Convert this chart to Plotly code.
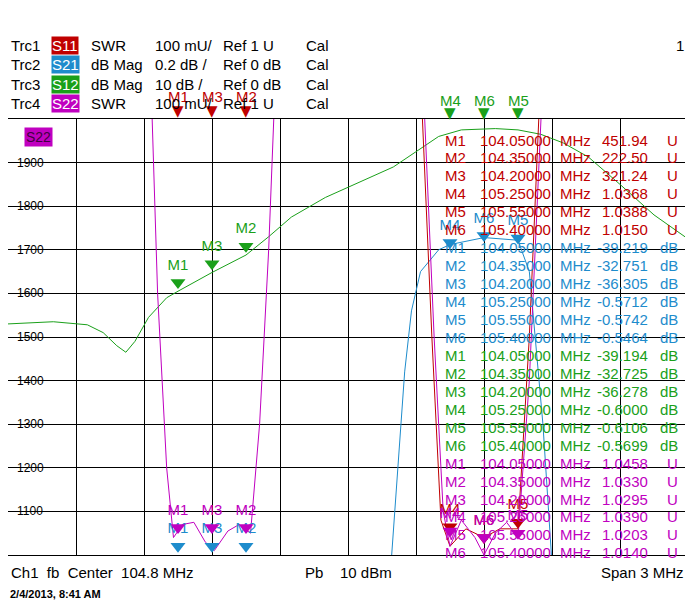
import plotly.graph_objects as go

# frequency axis (MHz) and display values (S22 SWR scale, drawn in "mU" units)
f_start, f_stop = 103.3, 106.3
y_ticks = [1100, 1200, 1300, 1400, 1500, 1600, 1700, 1800, 1900]

s12_f = [103.3, 103.5, 103.65, 103.72, 103.78, 103.82, 103.86, 103.92, 104.0, 104.05, 104.2, 104.35,
         104.45, 104.55, 104.7, 104.85, 105.0, 105.1, 105.2, 105.3, 105.45, 105.55, 105.65, 105.75,
         105.86, 106.0, 106.15, 106.3]
s12_v = [1530, 1535, 1528, 1510, 1480, 1465, 1490, 1545, 1590, 1605, 1648, 1688,
         1730, 1775, 1820, 1855, 1890, 1925, 1960, 1975, 1978, 1975, 1965, 1945,
         1913, 1850, 1780, 1725]

s21_f = [104.99, 105.02, 105.05, 105.08, 105.12, 105.2, 105.25, 105.4, 105.55, 105.6, 105.66, 105.7]
s21_v = [980, 1200, 1420, 1560, 1650, 1700, 1712, 1728, 1722, 1650, 1300, 980]

s11_f = [105.12, 105.17, 105.21, 105.25, 105.32, 105.4, 105.47, 105.55, 105.6, 105.65]
s11_v = [2100, 1500, 1080, 1020, 1060, 1040, 1060, 1060, 1500, 2100]

s22_f = [103.93, 103.96, 104.0, 104.03, 104.07, 104.12, 104.17, 104.21, 104.27, 104.32,
         104.37, 104.41, 104.45, 104.48, 105.13, 105.18, 105.22, 105.25, 105.3, 105.36,
         105.4, 105.45, 105.5, 105.55, 105.6, 105.66]
s22_v = [2100, 1600, 1200, 1040, 1070, 1075, 1030, 1010, 1055, 1070,
         1050, 1300, 1700, 2100, 2100, 1500, 1100, 1020, 1080, 1040,
         1000, 1050, 1075, 1040, 1400, 2100]

mk_left_f = [104.05, 104.2, 104.35]
mk_left_n = ['M1', 'M3', 'M2']
mk_right_f = [105.25, 105.4, 105.55]
mk_right_n = ['M4', 'M6', 'M5']

red, blue, green, mag = '#c00000', '#1e8ccc', '#1aa01a', '#c000c0'

table_rows = [
    ('M1', '104.05000', '451.94', 'U', red), ('M2', '104.35000', '222.50', 'U', red),
    ('M3', '104.20000', '321.24', 'U', red), ('M4', '105.25000', '1.0368', 'U', red),
    ('M5', '105.55000', '1.0388', 'U', red), ('M6', '105.40000', '1.0150', 'U', red),
    ('M1', '104.05000', '-39.219', 'dB', blue), ('M2', '104.35000', '-32.751', 'dB', blue),
    ('M3', '104.20000', '-36.305', 'dB', blue), ('M4', '105.25000', '-0.5712', 'dB', blue),
    ('M5', '105.55000', '-0.5742', 'dB', blue), ('M6', '105.40000', '-0.5464', 'dB', blue),
    ('M1', '104.05000', '-39.194', 'dB', green), ('M2', '104.35000', '-32.725', 'dB', green),
    ('M3', '104.20000', '-36.278', 'dB', green), ('M4', '105.25000', '-0.6000', 'dB', green),
    ('M5', '105.55000', '-0.6106', 'dB', green), ('M6', '105.40000', '-0.5699', 'dB', green),
    ('M1', '104.05000', '1.0458', 'U', mag), ('M2', '104.35000', '1.0330', 'U', mag),
    ('M3', '104.20000', '1.0295', 'U', mag), ('M4', '105.25000', '1.0390', 'U', mag),
    ('M5', '105.55000', '1.0203', 'U', mag), ('M6', '105.40000', '1.0140', 'U', mag),
]

# page body adds an 8 px offset; figure is sized so the plot lands where the reference has it
OFF = 8
W, H = 685, 603
L, R, T, B = 8, 688, 119, 555   # plot box in window pixels
FONT = 'Liberation Sans'


def px(x):
    return (x - L) / (R - L)


def py(y):
    return (B - y) / (B - T)


def lin(f, fs, vs):
    for i in range(len(fs) - 1):
        if fs[i] <= f <= fs[i + 1]:
            t = (f - fs[i]) / (fs[i + 1] - fs[i])
            return vs[i] + t * (vs[i + 1] - vs[i])
    return vs[-1]


def note(x, y, text, font, anchor='center', **kw):
    return dict(x=px(x), y=py(y), xref='paper', yref='paper', text=text, xanchor=anchor,
                yanchor='middle', showarrow=False, font=font, **kw)


fig = go.Figure()
for fs, vs, c in [(s12_f, s12_v, green), (s21_f, s21_v, blue),
                  (s11_f, s11_v, red), (s22_f, s22_v, mag)]:
    fig.add_trace(go.Scatter(x=fs, y=vs, mode='lines', line=dict(color=c, width=1),
                             hoverinfo='skip'))


def markers(fs, names, ys, c, size=13):
    fig.add_trace(go.Scatter(
        x=fs, y=ys, mode='markers+text', text=names, textposition='top center',
        textfont=dict(family=FONT, size=15, color=c),
        marker=dict(symbol='triangle-down', size=size, color=c), cliponaxis=False))


markers(mk_left_f, mk_left_n, [1020] * 3, blue)
markers(mk_left_f, mk_left_n, [1063] * 3, mag)
markers(mk_left_f, mk_left_n, [lin(f, s12_f, s12_v) + 20 for f in mk_left_f], green)
markers(mk_right_f, mk_right_n, [lin(f, s21_f, s21_v) + 5 for f in mk_right_f], blue)
markers(mk_right_f, mk_right_n, [1065, 1040, 1075], red)
markers(mk_right_f, mk_right_n, [1055, 1040, 1050], mag)

ann = []
# off-scale markers above the grid (red S11 left, green S12 right)
for fs, names, c, ylab, ytri in [(mk_left_f, mk_left_n, red, 97, 111),
                                 (mk_right_f, mk_right_n, green, 100, 113)]:
    for f, n in zip(fs, names):
        ann.append(dict(x=f, y=py(ylab), xref='x', yref='paper', text=n, showarrow=False,
                        yanchor='middle', font=dict(family=FONT, size=15, color=c)))
        ann.append(dict(x=f, y=py(ytri), xref='x', yref='paper', text='▼', showarrow=False,
                        yanchor='middle', font=dict(family='DejaVu Sans', size=15, color=c)))

for v in y_ticks:
    ann.append(note(30, B - (v - 1000) * (B - T) / 1000, str(v),
                    dict(family=FONT, size=12, color='black')))

hdr = [('Trc1', 'S11', 'SWR', '100 mU/', 'Ref 1 U', red),
       ('Trc2', 'S21', 'dB Mag', '0.2 dB /', 'Ref 0 dB', blue),
       ('Trc3', 'S12', 'dB Mag', '10 dB /', 'Ref 0 dB', green),
       ('Trc4', 'S22', 'SWR', '100 mU/', 'Ref 1 U', mag)]
for i, (a, b, c, d, e, col) in enumerate(hdr):
    y = 46 + i * 19
    f = dict(family=FONT, size=15, color='black')
    ann += [note(9, y, a, f, 'left'),
            note(51, y, b, dict(family=FONT, size=15, color='white'), 'left',
                 bgcolor=col, borderpad=0),
            note(89, y, c, f, 'left'),
            note(153, y, d, f, 'left'),
            note(221, y, e, f, 'left'),
            note(304, y, 'Cal', f, 'left')]
ann.append(note(680, 46, '1', dict(family=FONT, size=15, color='black')))
ann.append(note(38, 137, 'S22', dict(family=FONT, size=14, color='#400040'), bgcolor=mag))

for i, (m, fq, val, unit, col) in enumerate(table_rows):
    y = 140 + i * 17.95
    f = dict(family=FONT, size=15, color=col)
    ann += [note(443, y, m, f, 'left'),
            note(553, y, fq, f, 'right'),
            note(558, y, 'MHz', f, 'left'),
            note(650, y, val, f, 'right'),
            note(680, y, unit, f, 'right')]

fb = dict(family=FONT, size=15, color='black')
ann += [note(9, 572, 'Ch1  fb  Center  104.8 MHz', fb, 'left'),
        note(303, 572, 'Pb    10 dBm', fb, 'left'),
        note(686, 572, 'Span 3 MHz', fb, 'right'),
        note(8, 594, '<b>2/4/2013, 8:41 AM</b>', dict(family=FONT, size=11, color='black'), 'left')]

fig.update_layout(
    width=W, height=H, showlegend=False, paper_bgcolor='white', plot_bgcolor='white',
    margin=dict(l=L - OFF, r=W - (R - OFF), t=T - OFF, b=H - (B - OFF), autoexpand=False),
    xaxis=dict(range=[f_start, f_stop], dtick=0.3, tick0=f_start, showgrid=True,
               gridcolor='black', gridwidth=1, showticklabels=False, zeroline=False,
               showline=True, linecolor='black', mirror=True, ticks=''),
    yaxis=dict(range=[1000, 2000], dtick=100, showgrid=True, gridcolor='black',
               showticklabels=False, zeroline=False, showline=True, linecolor='black',
               mirror=True, ticks=''),
    annotations=ann,
)

fig.write_html('out.html')
